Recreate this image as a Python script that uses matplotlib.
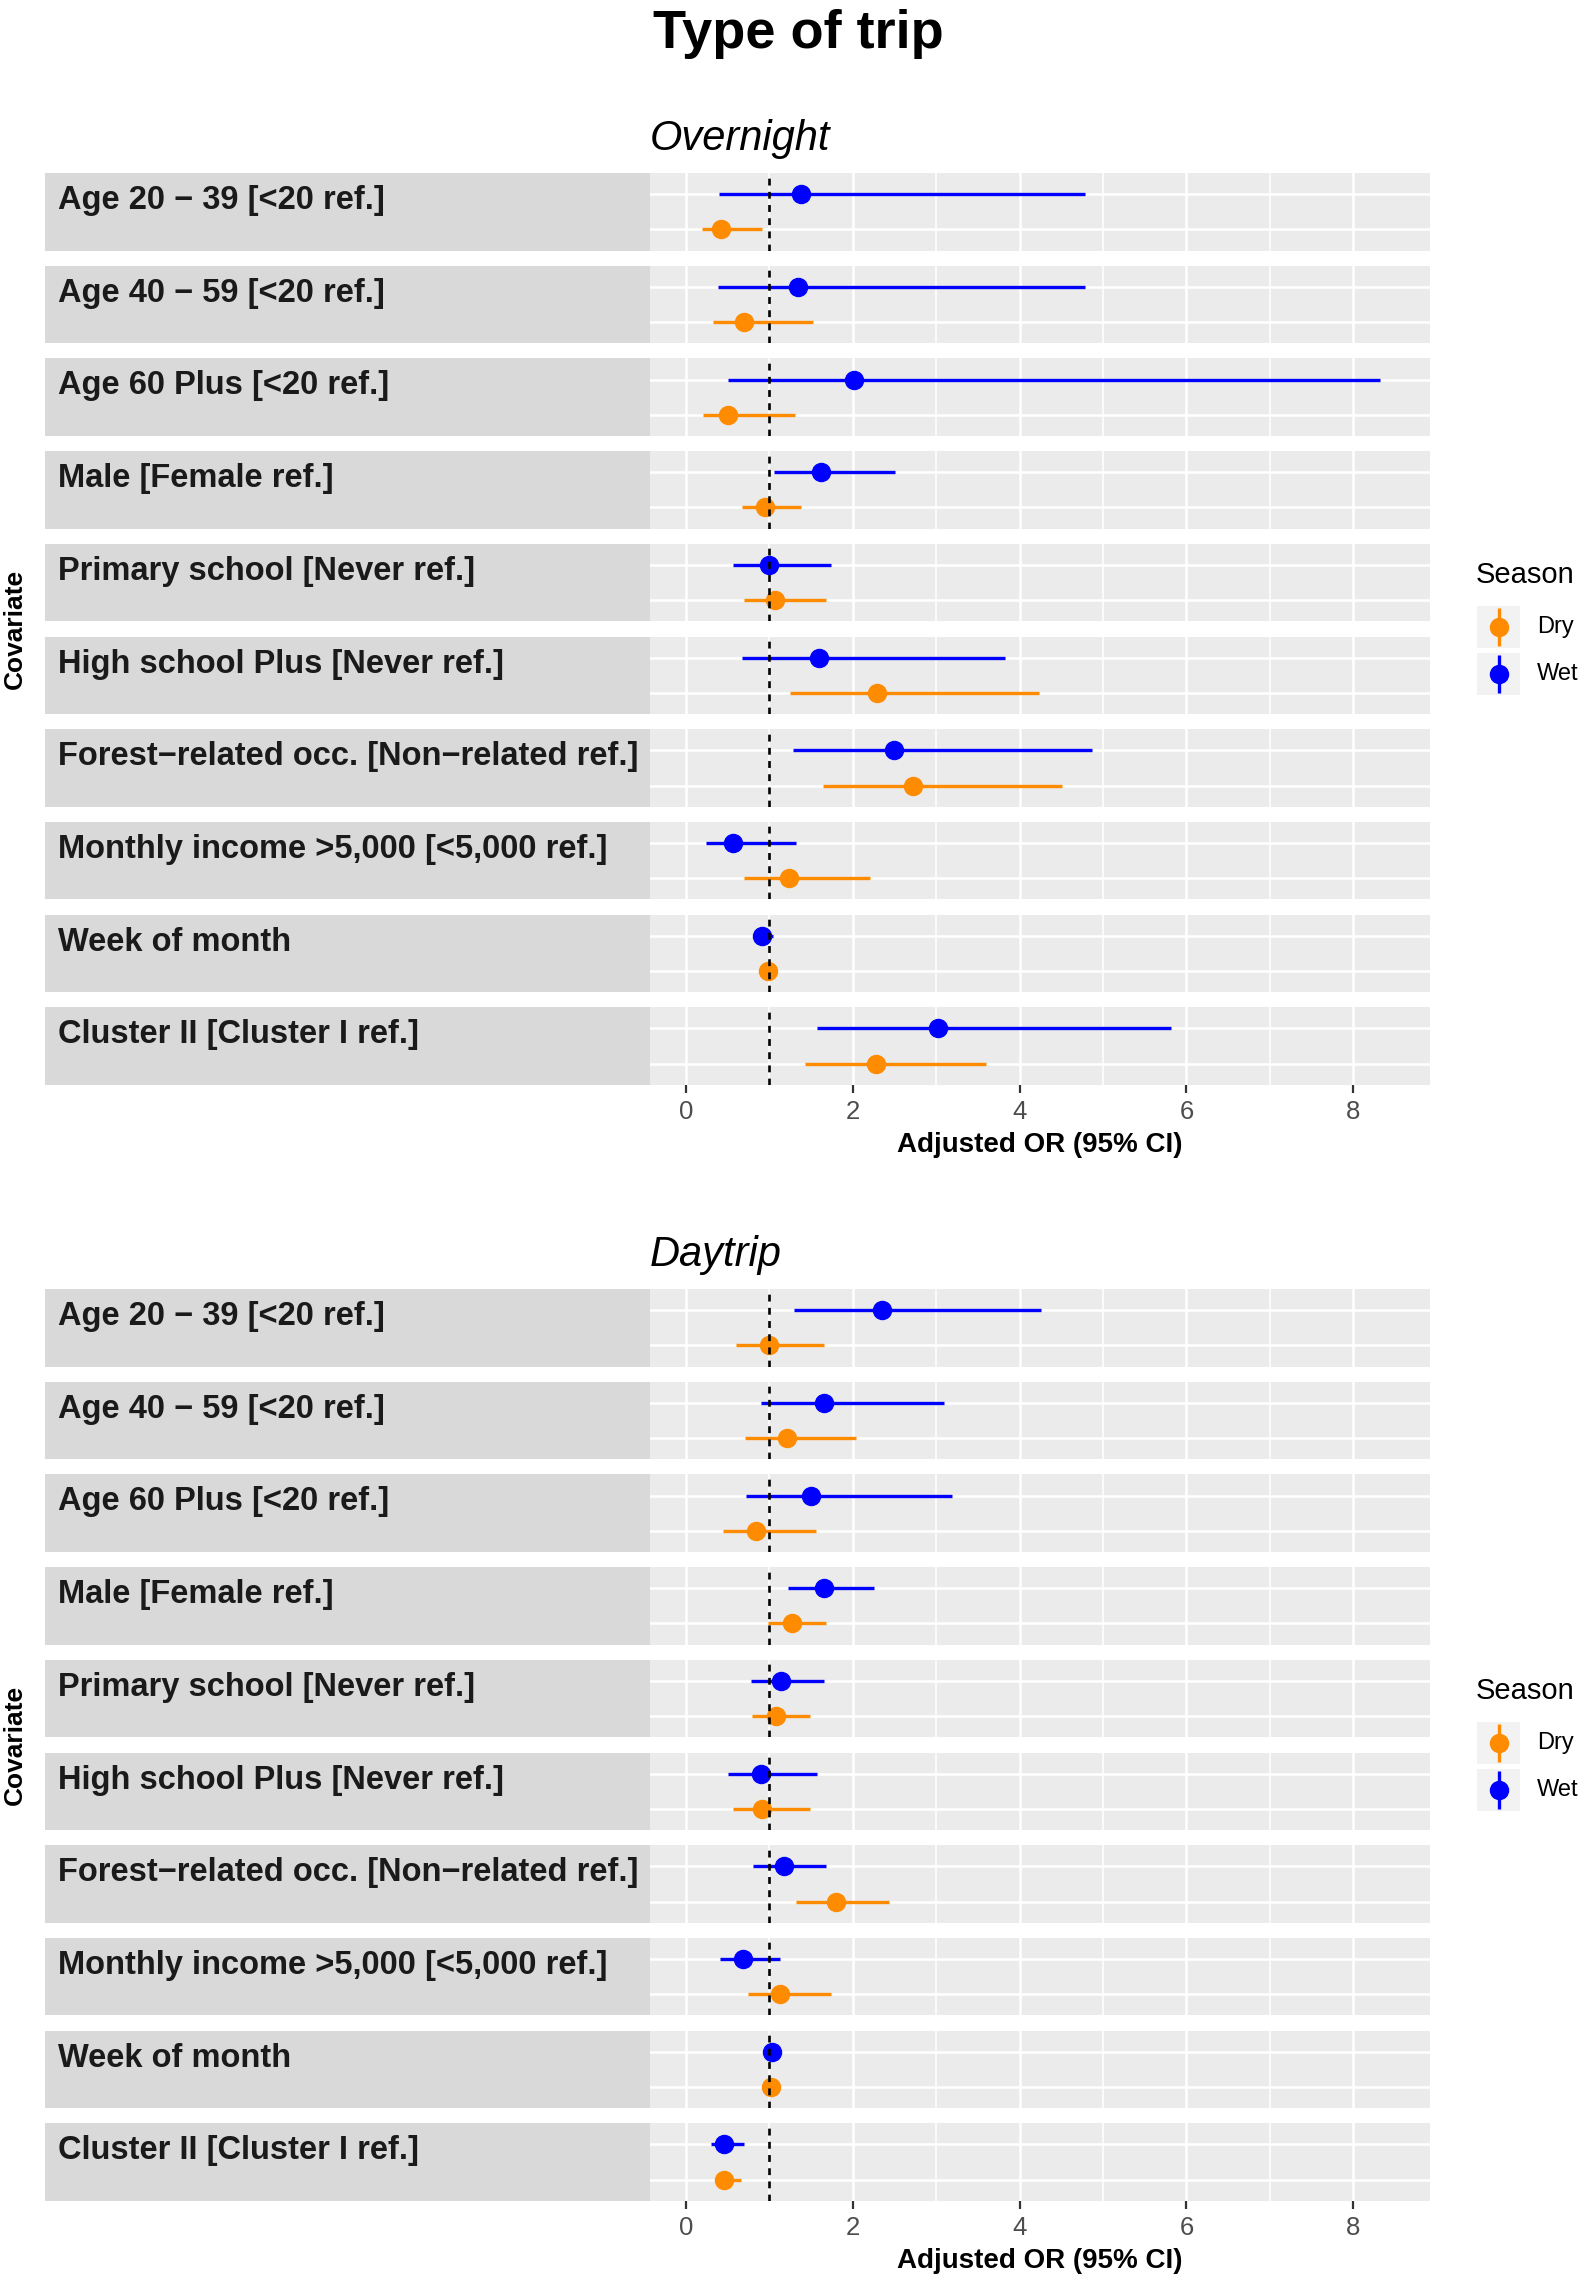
# Forest plot: adjusted OR by season, overnight vs daytrip
import matplotlib
matplotlib.use('Agg')
import matplotlib.pyplot as plt

plt.rcParams['font.family'] = ['Liberation Sans', 'DejaVu Sans']

# 1. Data
covariates = ['Age 20 − 39 [<20 ref.]', 'Age 40 − 59 [<20 ref.]', 'Age 60 Plus [<20 ref.]',
              'Male [Female ref.]', 'Primary school [Never ref.]', 'High school Plus [Never ref.]',
              'Forest−related occ. [Non−related ref.]', 'Monthly income >5,000 [<5,000 ref.]',
              'Week of month', 'Cluster II [Cluster I ref.]']

# Overnight
on_wet_or = [1.38, 1.35, 2.02, 1.62, 1.00, 1.59, 2.50, 0.56, 0.91, 3.02]
on_wet_lo = [0.40, 0.38, 0.50, 1.06, 0.57, 0.67, 1.29, 0.24, 0.86, 1.57]
on_wet_hi = [4.79, 4.78, 8.32, 2.51, 1.74, 3.83, 4.87, 1.32, 1.05, 5.82]
on_dry_or = [0.42, 0.70, 0.51, 0.95, 1.07, 2.29, 2.72, 1.24, 0.98, 2.28]
on_dry_lo = [0.19, 0.32, 0.20, 0.67, 0.70, 1.25, 1.64, 0.70, 0.95, 1.43]
on_dry_hi = [0.91, 1.52, 1.31, 1.38, 1.68, 4.23, 4.51, 2.21, 1.02, 3.60]

# Daytrip
dt_wet_or = [2.35, 1.66, 1.50, 1.66, 1.14, 0.90, 1.18, 0.69, 1.03, 0.46]
dt_wet_lo = [1.30, 0.90, 0.72, 1.23, 0.78, 0.51, 0.81, 0.41, 0.98, 0.30]
dt_wet_hi = [4.26, 3.09, 3.19, 2.26, 1.65, 1.57, 1.68, 1.13, 1.08, 0.70]
dt_dry_or = [1.00, 1.21, 0.84, 1.27, 1.08, 0.91, 1.80, 1.13, 1.02, 0.46]
dt_dry_lo = [0.60, 0.71, 0.45, 0.98, 0.79, 0.56, 1.32, 0.74, 0.98, 0.35]
dt_dry_hi = [1.66, 2.04, 1.56, 1.68, 1.49, 1.49, 2.44, 1.74, 1.05, 0.66]

seasons = ['Dry', 'Wet']
colors = {'Dry': '#FF8C00', 'Wet': '#0000FF'}
x_ticks = [0, 2, 4, 6, 8]

panels = [
    ('Overnight', {'Dry': (on_dry_or, on_dry_lo, on_dry_hi), 'Wet': (on_wet_or, on_wet_lo, on_wet_hi)}),
    ('Daytrip', {'Dry': (dt_dry_or, dt_dry_lo, dt_dry_hi), 'Wet': (dt_wet_or, dt_wet_lo, dt_wet_hi)}),
]

# 2. Figure in pixel units
W, H = 1594, 2278
fig = plt.figure(figsize=(W / 100, H / 100), dpi=100)

def px_axes(x, y, w, h):
    return fig.add_axes([x / W, 1 - (y + h) / H, w / W, h / H])

def fy(y):
    return 1 - y / H

fig.text(798 / W, fy(48), 'Type of trip', ha='center', va='baseline',
         fontsize=39, fontweight='bold')

facet_h = 77.5
pitch = 92.7
panel_x, panel_w = 650, 780
strip_x = 45
offset = 1116

for p, (name, data) in enumerate(panels):
    top0 = 173 + p * offset
    fig.text(panel_x / W, fy(150 + p * offset), name, ha='left', va='baseline',
             fontsize=30, style='italic')

    for i, cov in enumerate(covariates):
        top = top0 + i * pitch
        # strip on the left
        sax = px_axes(strip_x, top, panel_x - strip_x, facet_h)
        sax.set_facecolor('#D9D9D9')
        sax.set_xticks([])
        sax.set_yticks([])
        for s in sax.spines.values():
            s.set_visible(False)
        sax.text(13 / (panel_x - strip_x), 1 - 36 / facet_h, cov, transform=sax.transAxes,
                 ha='left', va='baseline', fontsize=23.5, fontweight='bold', color='#1A1A1A')

        # panel
        ax = px_axes(panel_x, top, panel_w, facet_h)
        ax.set_facecolor('#EBEBEB')
        ax.set_xlim(-0.43, 8.92)
        ax.set_ylim(0.4, 2.6)
        ax.set_xticks(x_ticks)
        ax.set_xticks([1, 3, 5, 7], minor=True)
        ax.set_yticks([1, 2])
        ax.set_yticklabels([])
        ax.grid(which='major', color='white', linewidth=1.8)
        ax.grid(which='minor', axis='x', color='white', linewidth=1.1)
        ax.set_axisbelow(True)
        for s in ax.spines.values():
            s.set_visible(False)
        ax.tick_params(axis='y', length=0)
        ax.tick_params(axis='x', which='minor', length=0)

        for k, season in enumerate(seasons):
            est, lo, hi = data[season]
            ax.hlines(k + 1, lo[i], hi[i], color=colors[season], linewidth=2.4, zorder=3)
            ax.plot(est[i], k + 1, 'o', color=colors[season], markersize=13, zorder=4)
        ax.axvline(1, color='black', linewidth=1.9, linestyle=(0, (2.6, 2.4)), zorder=5)

        if i == len(covariates) - 1:
            ax.tick_params(axis='x', which='major', length=6, width=1.6, color='#333333',
                           labelsize=18.5, labelcolor='#4D4D4D', pad=5)
        else:
            ax.tick_params(axis='x', which='major', length=0, labelbottom=False)

    # x axis title
    fig.text((panel_x + panel_w / 2) / W, fy(1152 + p * offset), 'Adjusted OR (95% CI)',
             ha='center', va='baseline', fontsize=20, fontweight='bold')

    # y axis title
    fig.text(15 / W, fy(629 + p * offset), 'Covariate', rotation=90, ha='center',
             va='center', fontsize=19, fontweight='bold')

    # 3. Legend
    fig.text(1476 / W, fy(575 + p * offset), 'Season', ha='left', va='center', fontsize=21)
    for k, season in enumerate(seasons):
        ktop = 606 + k * 47 + p * offset
        kax = px_axes(1477, ktop, 43, 42)
        kax.set_facecolor('#F2F2F2')
        kax.set_xlim(0, 1)
        kax.set_ylim(0, 1)
        kax.set_xticks([])
        kax.set_yticks([])
        for s in kax.spines.values():
            s.set_visible(False)
        kax.vlines(0.5, 0.05, 0.95, color=colors[season], linewidth=2.4)
        kax.plot(0.5, 0.5, 'o', color=colors[season], markersize=13)
        fig.text(1537 / W, fy(ktop + 21), season, ha='left', va='center', fontsize=17)

fig.savefig('out.png', dpi=100)
